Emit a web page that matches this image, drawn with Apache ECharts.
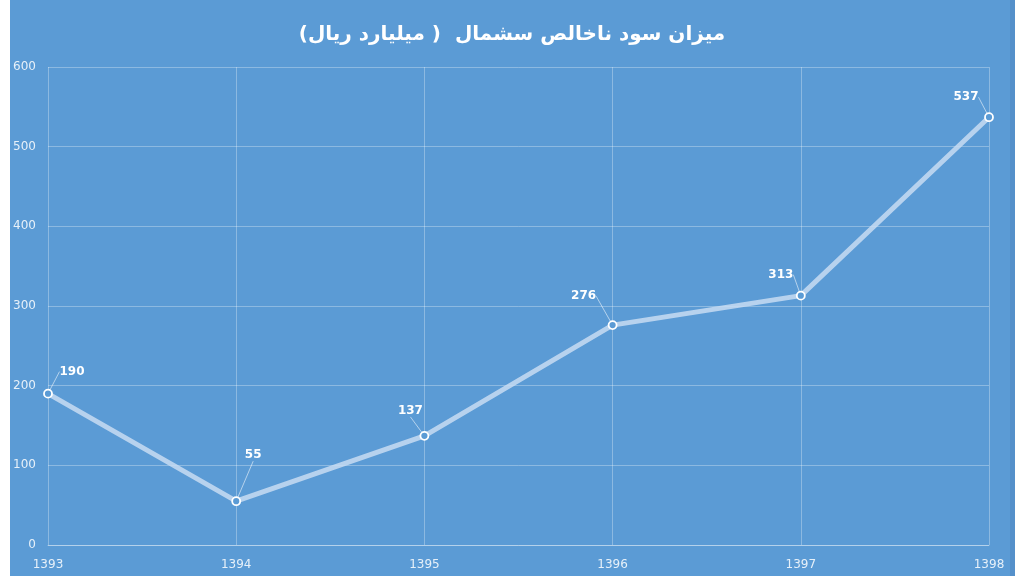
<!DOCTYPE html>
<html>
<head>
<meta charset="utf-8">
<script src="https://cdn.jsdelivr.net/npm/echarts@6/dist/echarts.min.js"></script>
<style>
html,body{margin:0;padding:0;background:#fff;}
#c{width:1024px;height:576px;}
</style>
</head>
<body>
<div id="c"></div>
<script>
const titleText = 'میزان سود ناخالص سشمال  ( میلیارد ریال)';
const categories = ['1393', '1394', '1395', '1396', '1397', '1398'];
const values = [190, 55, 137, 276, 313, 537];
const yTicks = [0, 100, 200, 300, 400, 500, 600];
// label offsets (dx, dy) relative to the point
const labelOffsets = [[24, -22], [17, -46], [-14, -25], [-29, -29], [-20, -21], [-23, -20]];

const chart = echarts.init(document.getElementById('c'), null, {renderer: 'canvas'});
chart.setOption({
  backgroundColor: '#ffffff',
  animation: false,
  graphic: [
    {type: 'rect', z: -10, silent: true, shape: {x: 10, y: 0, width: 1000, height: 576}, style: {fill: '#5B9BD5'}},
    {type: 'rect', z: -10, silent: true, shape: {x: 1010, y: 0, width: 5, height: 576}, style: {fill: '#5590CA'}}
  ],
  title: {
    text: titleText,
    left: 'center',
    top: 20,
    textStyle: {color: '#ffffff', fontSize: 20, fontWeight: 'bold', fontFamily: 'DejaVu Sans'}
  },
  grid: {left: 48, right: 35, top: 67, bottom: 31, containLabel: false},
  xAxis: {
    type: 'category',
    data: categories,
    boundaryGap: false,
    axisLine: {show: true, lineStyle: {color: 'rgba(255,255,255,0.35)', width: 1}},
    axisTick: {show: false},
    axisLabel: {color: 'rgba(255,255,255,0.85)', fontSize: 12, margin: 14, fontFamily: 'DejaVu Sans'},
    splitLine: {show: true, lineStyle: {color: 'rgba(255,255,255,0.3)', width: 1}}
  },
  yAxis: {
    type: 'value',
    min: yTicks[0],
    max: yTicks[yTicks.length - 1],
    interval: 100,
    axisLine: {show: false},
    axisTick: {show: false},
    axisLabel: {color: 'rgba(255,255,255,0.85)', fontSize: 12, margin: 12, fontFamily: 'DejaVu Sans'},
    splitLine: {show: true, lineStyle: {color: 'rgba(255,255,255,0.3)', width: 1}}
  },
  series: [{
    type: 'line',
    data: values,
    symbol: 'circle',
    symbolSize: 8,
    lineStyle: {color: 'rgba(200,220,242,0.85)', width: 5},
    itemStyle: {color: '#5B9BD5', borderColor: '#ffffff', borderWidth: 1.8},
    label: {
      show: true,
      position: 'inside',
      color: '#ffffff',
      fontWeight: 'bold',
      fontSize: 12,
      fontFamily: 'DejaVu Sans'
    },
    labelLine: {show: true, lineStyle: {color: 'rgba(255,255,255,0.55)', width: 1}},
    labelLayout: function (p) {
      const o = labelOffsets[p.dataIndex];
      return {dx: o[0], dy: o[1]};
    },
    z: 3
  }]
});
</script>
</body>
</html>
